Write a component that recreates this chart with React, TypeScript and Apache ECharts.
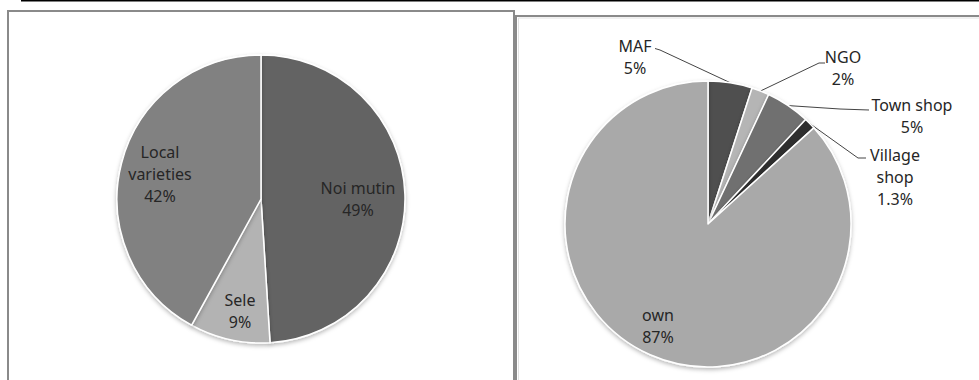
import React, { useEffect, useRef } from "react";
import * as echarts from "echarts";

// Seed sources (left) and seed suppliers (right), shares in percent
const VARIETY_NAMES = ["Noi mutin", "Sele", "Local varieties"];
const VARIETY_LABELS = ["Noi mutin", "Sele", "Local\nvarieties"];
const VARIETY_VALUES = [49, 9, 42];

const SOURCE_NAMES = ["MAF", "NGO", "Town shop", "Village shop", "own"];
const SOURCE_LABELS = ["MAF", "NGO", "Town shop", "Village\nshop", "own"];
const SOURCE_VALUES = [5, 2, 5, 1.3, 87];

const VARIETY_COLORS = ["#636363", "#b3b3b3", "#818181"];
const SOURCE_COLORS = ["#4f4f4f", "#b5b5b5", "#6f6f6f", "#2f2f2f", "#a9a9a9"];

// Label anchors (label block centres) and leader-line bends
const VARIETY_LABEL_POS = [
  [358, 198.5],
  [240, 311],
  [160, 173.5],
];
const SOURCE_LABEL_POS = [
  [635, 57],
  [843, 68],
  [912, 116],
  [895, 176.5],
  [658, 325.5],
];
const SOURCE_LINE_ENDS: (number[][] | null)[] = [
  [[660, 50], [655, 48.5]],
  [[819, 63], [825, 63]],
  [[840, 109], [869, 110]],
  [[858, 158], [866, 158]],
  null,
];

const FONT = "'Noto Sans', 'Open Sans', sans-serif";
const TEXT_COLOR = "#262626";

export default function App() {
  const ref = useRef<HTMLDivElement>(null);

  useEffect(() => {
    if (!ref.current) return;
    const chart = echarts.init(ref.current, null, { renderer: "svg" });

    const sliceStyle = {
      borderColor: "#ffffff",
      borderWidth: 1.5,
      shadowBlur: 4,
      shadowOffsetY: 2,
      shadowColor: "rgba(0,0,0,0.28)",
    };

    const labelText = {
      fontFamily: FONT,
      fontSize: 16,
      lineHeight: 22,
      color: TEXT_COLOR,
      align: "center" as const,
    };

    chart.setOption({
      animation: false,
      graphic: [
        {
          type: "line",
          shape: { x1: 21, y1: 0.75, x2: 979, y2: 0.75 },
          style: { stroke: "#000", lineWidth: 1.5 },
        },
        {
          type: "polyline",
          shape: { points: [[8, 400], [8, 11], [514, 11], [514, 400]] },
          style: { stroke: "#8a8a8a", lineWidth: 2, fill: null },
        },
        {
          type: "polyline",
          shape: { points: [[516, 400], [516, 16], [990, 16]] },
          style: { stroke: "#8a8a8a", lineWidth: 2, fill: null },
        },
        {
          type: "polyline",
          shape: { points: [[518.5, 400], [518.5, 18], [990, 18]] },
          style: { stroke: "#e2e2e2", lineWidth: 1, fill: null },
        },
      ],
      series: [
        {
          type: "pie",
          center: [261, 199],
          radius: 144,
          startAngle: 90,
          clockwise: true,
          avoidLabelOverlap: false,
          itemStyle: sliceStyle,
          emphasis: { disabled: true },
          label: {
            show: true,
            position: "inside",
            formatter: (p: any) => `${VARIETY_LABELS[p.dataIndex]}\n${p.value}%`,
            ...labelText,
          },
          labelLine: { show: false },
          labelLayout: (p: any) => ({
            x: VARIETY_LABEL_POS[p.dataIndex][0],
            y: VARIETY_LABEL_POS[p.dataIndex][1],
            align: "center",
            verticalAlign: "middle",
          }),
          data: VARIETY_NAMES.map((name, i) => ({
            name,
            value: VARIETY_VALUES[i],
            itemStyle: { color: VARIETY_COLORS[i] },
          })),
        },
        {
          type: "pie",
          center: [708, 224],
          radius: 143,
          startAngle: 90,
          clockwise: true,
          avoidLabelOverlap: false,
          itemStyle: sliceStyle,
          emphasis: { disabled: true },
          label: {
            show: true,
            position: "outside",
            formatter: (p: any) => `${SOURCE_LABELS[p.dataIndex]}\n${p.value}%`,
            ...labelText,
          },
          labelLine: {
            show: true,
            length: 20,
            length2: 8,
            lineStyle: { color: "#444", width: 1 },
          },
          labelLayout: (p: any) => {
            const pos = SOURCE_LABEL_POS[p.dataIndex];
            const ends = SOURCE_LINE_ENDS[p.dataIndex];
            const out: any = {
              x: pos[0],
              y: pos[1],
              align: "center",
              verticalAlign: "middle",
            };
            if (ends && p.labelLinePoints) {
              out.labelLinePoints = [p.labelLinePoints[0], ends[0], ends[1]];
            }
            return out;
          },
          data: SOURCE_NAMES.map((name, i) => {
            const inside = name === "own";
            return {
              name,
              value: SOURCE_VALUES[i],
              itemStyle: { color: SOURCE_COLORS[i] },
              label: inside ? { position: "inside" } : undefined,
              labelLine: inside ? { show: false } : undefined,
            };
          }),
        },
      ],
    });

    return () => chart.dispose();
  }, []);

  return (
    <div style={{ position: "fixed", left: 0, top: 0, width: 979, height: 380, background: "#fff" }}>
      <div ref={ref} style={{ width: 979, height: 380 }} />
    </div>
  );
}
